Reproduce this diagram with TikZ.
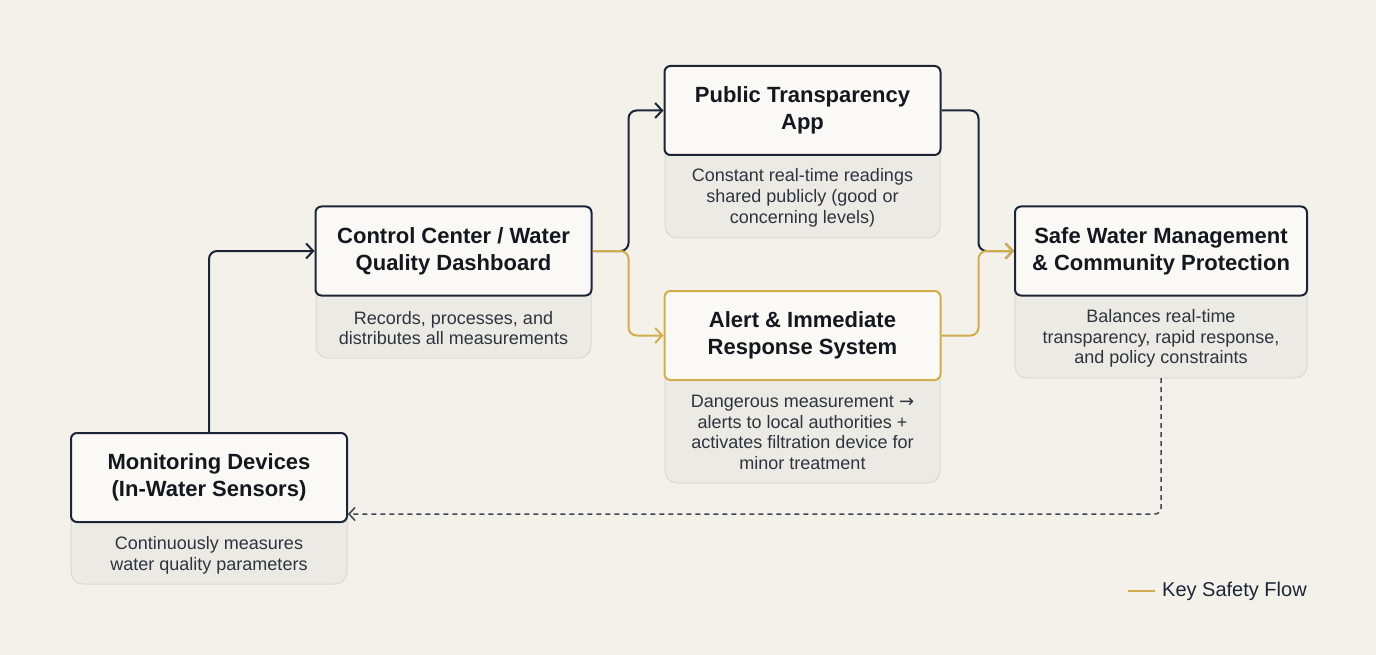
\documentclass[tikz,border=0pt]{standalone}
\usepackage{fontspec}
\setmainfont{Liberation Sans}
\newfontfamily\symfont{DejaVu Sans}
\usetikzlibrary{arrows.meta}
\definecolor{bgc}{HTML}{F4F1EB}
\definecolor{navy}{HTML}{1C2536}
\definecolor{goldc}{HTML}{D2AD4E}
\definecolor{descfill}{HTML}{ECEAE5}
\definecolor{descline}{HTML}{DCD9D3}
\definecolor{titlefill}{HTML}{FAF9F6}
\definecolor{desctext}{HTML}{2E333D}
\definecolor{titletext}{HTML}{14171E}
\tikzset{
  titlebox/.style={draw=navy, line width=2pt, fill=titlefill, rounded corners=6pt,
    minimum width=276pt, minimum height=89pt, align=center, inner sep=0pt,
    font=\fontsize{22}{27}\selectfont\bfseries, text=titletext},
  descbg/.style={draw=descline, line width=1pt, fill=descfill, rounded corners=12pt},
  desctxt/.style={align=center, inner sep=0pt, font=\fontsize{18}{20.7}\selectfont, text=desctext},
  navyflow/.style={draw=navy, line width=2pt, rounded corners=8pt, -{Straight Barb[length=7pt,width=15pt,line width=2pt]}},
  goldflow/.style={draw=goldc, line width=2pt, rounded corners=8pt, -{Straight Barb[length=7pt,width=15pt,line width=2pt]}},
  dashflow/.style={draw=navy!85, line width=1.5pt, dash pattern=on 5pt off 4pt, rounded corners=6pt, -{Straight Barb[length=6pt,width=13pt,line width=1.5pt]}},
}
\begin{document}
\begin{tikzpicture}[x=1pt,y=-1pt]
\fill[bgc] (0,0) rectangle (1376,655);
\useasboundingbox (0,0) rectangle (1376,655);

% description backgrounds
\draw[descbg] (71,480) rectangle (347,584);
\draw[descbg] (316,250) rectangle (591,358);
\draw[descbg] (665,110) rectangle (940,238);
\draw[descbg] (665,335) rectangle (940,483);
\draw[descbg] (1015,251) rectangle (1307,378);

% title boxes
\node[titlebox] (mon) at (209,477.5) {Monitoring Devices\\(In-Water Sensors)};
\node[titlebox] (ctrl) at (453.5,251) {Control Center / Water\\Quality Dashboard};
\node[titlebox] (pub) at (802.5,110.5) {Public Transparency\\App};
\node[titlebox, draw=goldc] (alert) at (802.5,335.5) {Alert \& Immediate\\Response System};
\node[titlebox, minimum width=292pt] (safe) at (1161,251) {Safe Water Management\\\& Community Protection};

% description texts
\node[desctxt] (mond) at (209,555) {Continuously measures\\water quality parameters};
\node[desctxt] (ctrld) at (453.5,328) {Records, processes, and\\distributes all measurements};
\node[desctxt] (pubd) at (802.5,198) {Constant real-time readings\\shared publicly (good or\\concerning levels)};
\node[desctxt] (alertd) at (802.5,432.5) {Dangerous measurement {\symfont →}\\alerts to local authorities +\\activates filtration device for\\minor treatment};
\node[desctxt] (safed) at (1161,338.5) {Balances real-time\\transparency, rapid response,\\and policy constraints};

% connectors
\draw[navyflow] (mon.north) |- (ctrl.west);
\draw[navyflow] (ctrl.east) -- ++(36,0) |- (pub.west);
\draw[navyflow] (pub.east) -- ++(37,0) |- (safe.west);
\draw[goldflow] (ctrl.east) -- ++(36,0) |- (alert.west);
\draw[goldflow] (alert.east) -- ++(37,0) |- (safe.west);
\coordinate (safebot) at (1161,378);
\draw[dashflow] (safebot) |- ([yshift=9pt]mon.south east);

% legend
\coordinate (lega) at (1128,591);
\coordinate (legb) at (1155,591);
\draw[goldc, line width=2pt] (lega) -- (legb);
\node[anchor=west, inner sep=0pt, font=\fontsize{20}{24}\selectfont, text=navy] (legt) at (1162,591) {Key Safety Flow};
\end{tikzpicture}
\end{document}
